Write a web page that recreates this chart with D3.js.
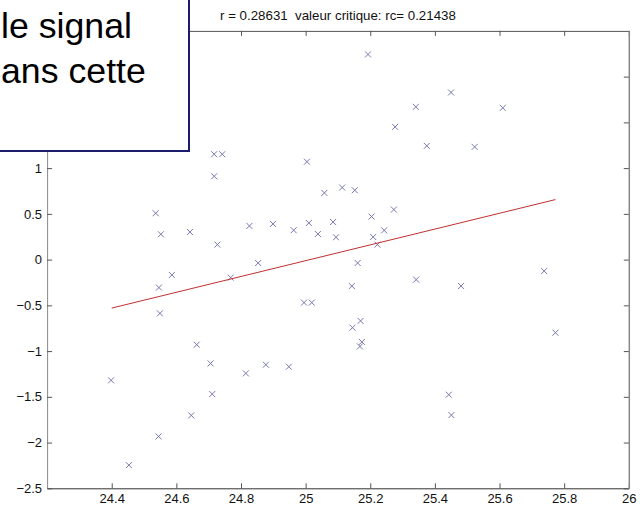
<!DOCTYPE html>
<html>
<head>
<meta charset="utf-8">
<script src="https://cdn.jsdelivr.net/npm/d3@7"></script>
<style>
  body { margin: 0; background: #fff; }
  svg { display: block; font-family: "Liberation Sans", Arial, sans-serif; }
</style>
</head>
<body>
<script>
// scatter values
const xVals = [24.717, 24.742, 25.004, 24.717, 25.058, 25.113, 25.152, 24.536, 24.552, 24.642,
  24.727, 24.826, 24.899, 24.963, 25.01, 25.038, 25.085, 25.094, 25.204, 25.273,
  25.243, 25.209, 25.222, 24.853, 25.161, 24.586, 24.546, 24.768, 25.143, 24.995,
  25.019, 24.549, 25.145, 25.17, 25.174, 25.168, 25.375, 25.523, 25.193, 25.45,
  25.341, 25.61, 25.277, 25.342, 25.481, 25.738, 25.773, 24.663, 24.706, 24.815,
  24.877, 24.948, 24.398, 24.711, 24.646, 24.545, 24.453, 25.443, 25.451];
const yVals = [1.152, 1.152, 1.07, 0.911, 0.729, 0.788, 0.758, 0.507, 0.277, 0.302,
  0.164, 0.368, 0.39, 0.321, 0.40, 0.28, 0.411, 0.244, 0.47, 0.547,
  0.32, 0.247, 0.164, -0.037, -0.037, -0.168, -0.306, -0.197, -0.289, -0.47,
  -0.47, -0.588, -0.744, -0.67, -0.90, -0.949, 1.243, 1.232, 2.243, 1.827,
  1.67, 1.659, 1.451, -0.219, -0.289, -0.125, -0.799, -0.93, -1.135, -1.244,
  -1.149, -1.171, -1.32, -1.47, -1.703, -1.933, -2.247, -1.477, -1.70];

// regression line end points
const fitX = [24.4, 25.773];
const fitY = [-0.53, 0.656];

const xTicks = [24.4, 24.6, 24.8, 25, 25.2, 25.4, 25.6, 25.8, 26];
const yTicks = [-2.5, -2, -1.5, -1, -0.5, 0, 0.5, 1, 1.5, 2];
// 1.5 and 2 sit under the text box, so no label is shown for them
const yLabelTicks = [-2.5, -2, -1.5, -1, -0.5, 0, 0.5, 1];

const titleText = "r = 0.28631  valeur critique: rc= 0.21438";
const boxLines = ["le signal", "ans cette"];

const W = 643, H = 506;
const pLeft = 47.1, pRight = 628.8, pTop = 30.9, pBottom = 488.3;

const svg = d3.select("body").append("svg")
  .attr("width", W)
  .attr("height", H);

const x = d3.scaleLinear().domain([24.2, 26]).range([pLeft, pRight]);
const y = d3.scaleLinear().domain([-2.5, 2.5]).range([pBottom, pTop]);

// axes, matlab style: ticks pointing inside, box all round
const axisColor = "#555";
function styleAxis(g) {
  g.selectAll("path, line").attr("stroke", axisColor);
  g.selectAll("text").attr("fill", "#111").style("font-size", "13px");
}

svg.append("g")
  .attr("transform", "translate(0," + pBottom + ")")
  .call(d3.axisBottom(x).tickValues(xTicks).tickFormat(d3.format("")).tickSize(-5).tickSizeOuter(0).tickPadding(5))
  .call(styleAxis)
  .call(g => g.select(".domain").attr("stroke", "#333"));

svg.append("g")
  .attr("transform", "translate(0," + pTop + ")")
  .call(d3.axisTop(x).tickValues(xTicks).tickFormat("").tickSize(-5).tickSizeOuter(0))
  .call(styleAxis);

svg.append("g")
  .attr("transform", "translate(" + pLeft + ",0)")
  .call(d3.axisLeft(y).tickValues(yTicks)
    .tickFormat(d => yLabelTicks.includes(d) ? d3.format("")(d) : "")
    .tickSize(-5).tickSizeOuter(0).tickPadding(5))
  .call(styleAxis)
  .call(g => g.select(".domain").attr("stroke", "#888"));

svg.append("g")
  .attr("transform", "translate(" + pRight + ",0)")
  .call(d3.axisRight(y).tickValues(yTicks).tickFormat("").tickSize(-5).tickSizeOuter(0))
  .call(styleAxis)
  .call(g => g.select(".domain").attr("stroke", "#888").attr("stroke-width", 1.5));

// title
svg.append("text")
  .attr("x", (pLeft + pRight) / 2)
  .attr("y", 20)
  .attr("text-anchor", "middle")
  .style("font-size", "13.3px")
  .style("white-space", "pre")
  .attr("fill", "#111")
  .text(titleText);

// points
const pts = d3.range(xVals.length).map(i => ({ x: xVals[i], y: yVals[i] }));
svg.append("g")
  .selectAll("path")
  .data(pts)
  .enter()
  .append("path")
  .attr("transform", d => "translate(" + x(d.x) + "," + y(d.y) + ")")
  .attr("d", "M-3,-3L3,3M-3,3L3,-3")
  .attr("fill", "none")
  .attr("stroke", "#7878b0")
  .attr("stroke-width", 1);

// fitted line
svg.append("path")
  .datum(fitX.map((v, i) => [v, fitY[i]]))
  .attr("d", d3.line().x(d => x(d[0])).y(d => y(d[1])))
  .attr("fill", "none")
  .attr("stroke", "#c03030")
  .attr("stroke-width", 1);

// overlaid text box from the slide
svg.append("rect")
  .attr("x", -2)
  .attr("y", -2)
  .attr("width", 191)
  .attr("height", 153)
  .attr("fill", "#fff")
  .attr("stroke", "#1c1c6c")
  .attr("stroke-width", 2);

svg.selectAll(".boxline")
  .data(boxLines)
  .enter()
  .append("text")
  .attr("class", "boxline")
  .attr("x", 1)
  .attr("y", (d, i) => 38 + i * 45)
  .style("font-size", "35.7px")
  .attr("fill", "#000")
  .text(d => d);
</script>
</body>
</html>
